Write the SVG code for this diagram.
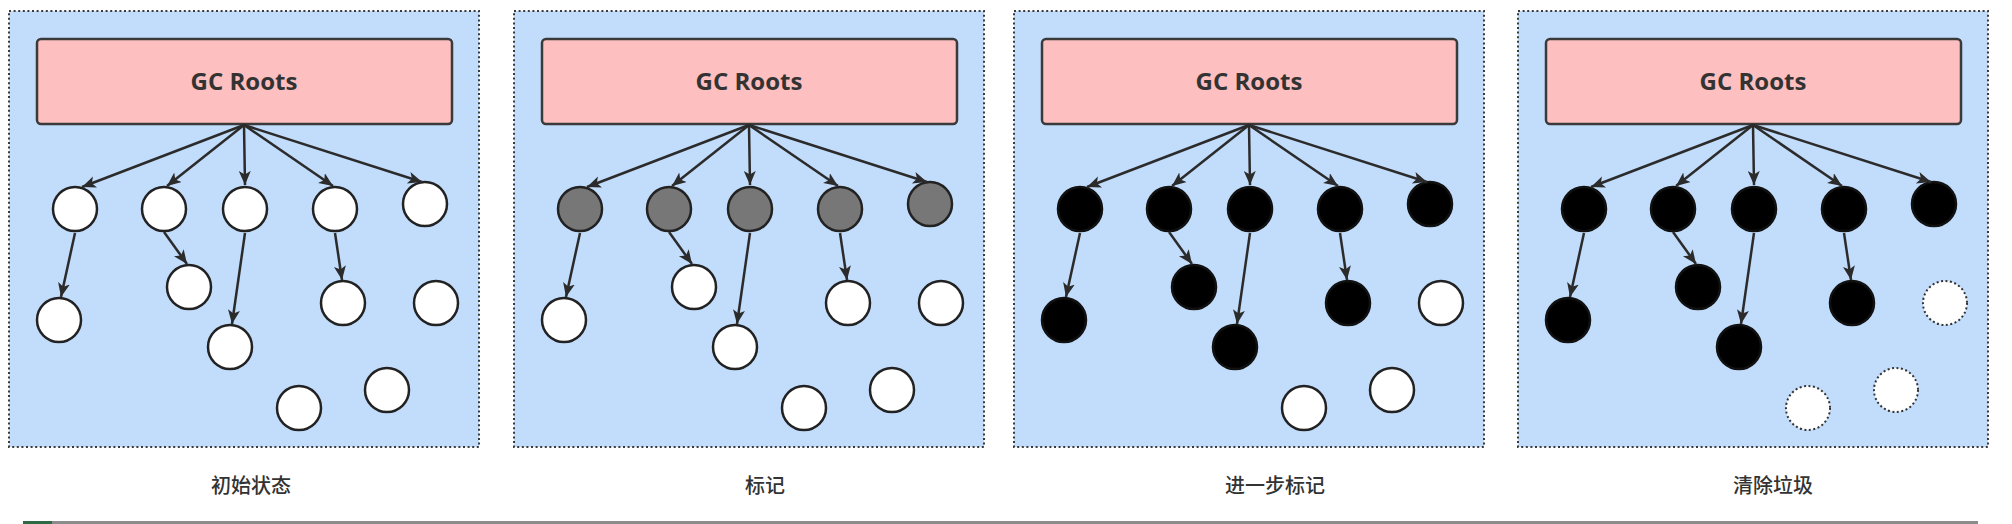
<svg xmlns="http://www.w3.org/2000/svg" width="2012" height="524" viewBox="0 0 2012 524">
<defs>
<style>
.panel{fill:#c2dcfb;stroke:#3a3a3a;stroke-width:2;stroke-dasharray:2 2.6}
.root{fill:#fdbfbf;stroke:#3a3a3a;stroke-width:2.5}
.rt{font-family:"Open Sans","Noto Sans",sans-serif;font-weight:bold;font-size:24px;fill:#333;text-anchor:middle}
.w{fill:#fff;stroke:#222;stroke-width:2.5}
.g{fill:#777;stroke:#222;stroke-width:2.5}
.b{fill:#000;stroke:#111;stroke-width:2.5}
.d{fill:#fff;stroke:#333;stroke-width:2;stroke-dasharray:2 2.5}
.e{stroke:#2b2b2b;stroke-width:2.5;fill:none;marker-end:url(#ah)}
.lab{font-family:"Noto Sans CJK SC","Noto Sans CJK JP",sans-serif;font-size:20px;font-weight:500;fill:#333;text-anchor:middle}
</style>
<marker id="ah" markerUnits="userSpaceOnUse" markerWidth="16" markerHeight="14" refX="14" refY="6" orient="auto">
<path d="M0,0 L14,6 L0,12 L3.5,6 Z" fill="#2b2b2b"/>
</marker>
</defs>
<rect width="2012" height="524" fill="#fff"/>

<!-- Panel 1 -->
<g id="panel1" transform="translate(9,0)">
<rect class="panel" x="0" y="11" width="470" height="436"/>
<g id="p1-roots"><rect class="root" x="28" y="39" width="415" height="85" rx="4"/><text class="rt" x="235" y="90">GC Roots</text></g>
<g id="p1-n1"><circle class="w" cx="66" cy="209" r="22"/></g>
<g id="p1-n2"><circle class="w" cx="155" cy="209" r="22"/></g>
<g id="p1-n3"><circle class="w" cx="236" cy="209" r="22"/></g>
<g id="p1-n4"><circle class="w" cx="326" cy="209" r="22"/></g>
<g id="p1-n5"><circle class="w" cx="416" cy="204" r="22"/></g>
<g id="p1-n6"><circle class="w" cx="50" cy="320" r="22"/></g>
<g id="p1-n7"><circle class="w" cx="180" cy="287" r="22"/></g>
<g id="p1-n8"><circle class="w" cx="221" cy="347" r="22"/></g>
<g id="p1-n9"><circle class="w" cx="334" cy="303" r="22"/></g>
<g id="p1-n10"><circle class="w" cx="427" cy="303" r="22"/></g>
<g id="p1-n11"><circle class="w" cx="290" cy="408" r="22"/></g>
<g id="p1-n12"><circle class="w" cx="378" cy="390" r="22"/></g>
<text class="lab" x="242" y="493">初始状态</text>
</g>

<!-- Panel 2 -->
<g id="panel2" transform="translate(514,0)">
<rect class="panel" x="0" y="11" width="470" height="436"/>
<g id="p2-roots"><rect class="root" x="28" y="39" width="415" height="85" rx="4"/><text class="rt" x="235" y="90">GC Roots</text></g>
<g id="p2-n1"><circle class="g" cx="66" cy="209" r="22"/></g>
<g id="p2-n2"><circle class="g" cx="155" cy="209" r="22"/></g>
<g id="p2-n3"><circle class="g" cx="236" cy="209" r="22"/></g>
<g id="p2-n4"><circle class="g" cx="326" cy="209" r="22"/></g>
<g id="p2-n5"><circle class="g" cx="416" cy="204" r="22"/></g>
<g id="p2-n6"><circle class="w" cx="50" cy="320" r="22"/></g>
<g id="p2-n7"><circle class="w" cx="180" cy="287" r="22"/></g>
<g id="p2-n8"><circle class="w" cx="221" cy="347" r="22"/></g>
<g id="p2-n9"><circle class="w" cx="334" cy="303" r="22"/></g>
<g id="p2-n10"><circle class="w" cx="427" cy="303" r="22"/></g>
<g id="p2-n11"><circle class="w" cx="290" cy="408" r="22"/></g>
<g id="p2-n12"><circle class="w" cx="378" cy="390" r="22"/></g>
<text class="lab" x="251" y="493">标记</text>
</g>

<!-- Panel 3 -->
<g id="panel3" transform="translate(1014,0)">
<rect class="panel" x="0" y="11" width="470" height="436"/>
<g id="p3-roots"><rect class="root" x="28" y="39" width="415" height="85" rx="4"/><text class="rt" x="235" y="90">GC Roots</text></g>
<g id="p3-n1"><circle class="b" cx="66" cy="209" r="22"/></g>
<g id="p3-n2"><circle class="b" cx="155" cy="209" r="22"/></g>
<g id="p3-n3"><circle class="b" cx="236" cy="209" r="22"/></g>
<g id="p3-n4"><circle class="b" cx="326" cy="209" r="22"/></g>
<g id="p3-n5"><circle class="b" cx="416" cy="204" r="22"/></g>
<g id="p3-n6"><circle class="b" cx="50" cy="320" r="22"/></g>
<g id="p3-n7"><circle class="b" cx="180" cy="287" r="22"/></g>
<g id="p3-n8"><circle class="b" cx="221" cy="347" r="22"/></g>
<g id="p3-n9"><circle class="b" cx="334" cy="303" r="22"/></g>
<g id="p3-n10"><circle class="w" cx="427" cy="303" r="22"/></g>
<g id="p3-n11"><circle class="w" cx="290" cy="408" r="22"/></g>
<g id="p3-n12"><circle class="w" cx="378" cy="390" r="22"/></g>
<text class="lab" x="261" y="493">进一步标记</text>
</g>

<!-- Panel 4 -->
<g id="panel4" transform="translate(1518,0)">
<rect class="panel" x="0" y="11" width="470" height="436"/>
<g id="p4-roots"><rect class="root" x="28" y="39" width="415" height="85" rx="4"/><text class="rt" x="235" y="90">GC Roots</text></g>
<g id="p4-n1"><circle class="b" cx="66" cy="209" r="22"/></g>
<g id="p4-n2"><circle class="b" cx="155" cy="209" r="22"/></g>
<g id="p4-n3"><circle class="b" cx="236" cy="209" r="22"/></g>
<g id="p4-n4"><circle class="b" cx="326" cy="209" r="22"/></g>
<g id="p4-n5"><circle class="b" cx="416" cy="204" r="22"/></g>
<g id="p4-n6"><circle class="b" cx="50" cy="320" r="22"/></g>
<g id="p4-n7"><circle class="b" cx="180" cy="287" r="22"/></g>
<g id="p4-n8"><circle class="b" cx="221" cy="347" r="22"/></g>
<g id="p4-n9"><circle class="b" cx="334" cy="303" r="22"/></g>
<g id="p4-n10"><circle class="d" cx="427" cy="303" r="22"/></g>
<g id="p4-n11"><circle class="d" cx="290" cy="408" r="22"/></g>
<g id="p4-n12"><circle class="d" cx="378" cy="390" r="22"/></g>
<text class="lab" x="255" y="493">清除垃圾</text>
</g>

<!-- Connectors -->
<g id="connectors">
<g id="edges1" transform="translate(9,0)">
<path class="e" d="M235,125 L73,187"/>
<path class="e" d="M235,125 L158,186"/>
<path class="e" d="M235,125 L236,185"/>
<path class="e" d="M235,125 L324,186"/>
<path class="e" d="M235,125 L413,182"/>
<path class="e" d="M66,233 L52,297"/>
<path class="e" d="M155,232 L178,264"/>
<path class="e" d="M236,233 L223,324"/>
<path class="e" d="M326,233 L333,280"/>
</g>
<g id="edges2" transform="translate(514,0)">
<path class="e" d="M235,125 L73,187"/>
<path class="e" d="M235,125 L158,186"/>
<path class="e" d="M235,125 L236,185"/>
<path class="e" d="M235,125 L324,186"/>
<path class="e" d="M235,125 L413,182"/>
<path class="e" d="M66,233 L52,297"/>
<path class="e" d="M155,232 L178,264"/>
<path class="e" d="M236,233 L223,324"/>
<path class="e" d="M326,233 L333,280"/>
</g>
<g id="edges3" transform="translate(1014,0)">
<path class="e" d="M235,125 L73,187"/>
<path class="e" d="M235,125 L158,186"/>
<path class="e" d="M235,125 L236,185"/>
<path class="e" d="M235,125 L324,186"/>
<path class="e" d="M235,125 L413,182"/>
<path class="e" d="M66,233 L52,297"/>
<path class="e" d="M155,232 L178,264"/>
<path class="e" d="M236,233 L223,324"/>
<path class="e" d="M326,233 L333,280"/>
</g>
<g id="edges4" transform="translate(1518,0)">
<path class="e" d="M235,125 L73,187"/>
<path class="e" d="M235,125 L158,186"/>
<path class="e" d="M235,125 L236,185"/>
<path class="e" d="M235,125 L324,186"/>
<path class="e" d="M235,125 L413,182"/>
<path class="e" d="M66,233 L52,297"/>
<path class="e" d="M155,232 L178,264"/>
<path class="e" d="M236,233 L223,324"/>
<path class="e" d="M326,233 L333,280"/>
</g>
</g>

<rect x="23" y="521" width="29" height="3" fill="#2e6b45"/>
<rect x="52" y="521" width="1926" height="3" fill="#8c8c8c"/>
</svg>
